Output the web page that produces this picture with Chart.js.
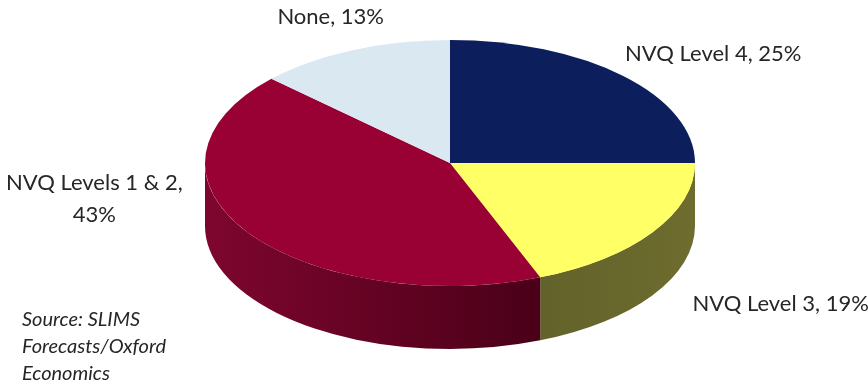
<!DOCTYPE html>
<html><head><meta charset="utf-8">
<script src="https://cdn.jsdelivr.net/npm/chart.js@4.4.1/dist/chart.umd.min.js"></script>
<style>html,body{margin:0;padding:0;background:#fff;overflow:hidden}#wrap{width:868px;height:389px;position:relative}</style>
</head><body><div id="wrap"><canvas id="c" width="868" height="389"></canvas></div>
<script>
// ---- data ----
const categories = ['NVQ Level 4', 'NVQ Level 3', 'NVQ Levels 1 & 2', 'None'];
const shares = [25, 19, 43, 13];
const sourceLines = ['Source: SLIMS', 'Forecasts/Oxford', 'Economics'];

// ---- styling ----
const topColors = ['#0c1f5c', '#ffff66', '#990033', '#dae9f1'];
const sideColors = [['#06123a', '#06123a'], ['#62622a', '#6e6c2e'], ['#7e062e', '#4a0018'], ['#a9b8c0', '#a9b8c0']];
const labelWrap = [false, false, true, false];
const labelNudge = [[90, -22], [128, 72], [-153, -33], [-22, -33]];
const TILT = 0.502, DEPTH = 63;
const LABEL_FONT = '22px Lato', SOURCE_FONT = 'italic 20px Lato', TEXT_COLOR = '#262626';

const pie3d = {
  id: 'pie3d',
  beforeDatasetsDraw(chart) {
    const ctx = chart.ctx, arcs = chart.getDatasetMeta(0).data;
    ctx.save();
    if (!arcs.length) return;
    const cx = arcs[0].x, cy = arcs[0].y, r = arcs[0].outerRadius;
    ctx.translate(cx, cy); ctx.scale(1, TILT); ctx.translate(-cx, -cy);
    const d = DEPTH / TILT;
    arcs.forEach((a, i) => {
      const lo = Math.max(a.startAngle, 0), hi = Math.min(a.endAngle, Math.PI);
      if (hi <= lo) return;
      ctx.beginPath();
      ctx.arc(cx, cy, r, lo, hi);
      ctx.lineTo(cx + r * Math.cos(hi), cy + r * Math.sin(hi) + d);
      ctx.arc(cx, cy + d, r, hi, lo, true);
      ctx.closePath();
      const x1 = cx + r * Math.cos(hi), x2 = cx + r * Math.cos(lo);
      const g = ctx.createLinearGradient(Math.min(x1, x2), 0, Math.max(x1, x2), 0);
      g.addColorStop(0, sideColors[i][0]);
      g.addColorStop(1, sideColors[i][1]);
      ctx.fillStyle = g;
      ctx.fill();
    });
  },
  afterDatasetsDraw(chart) {
    chart.ctx.restore();
  },
  afterDraw(chart) {
    const ctx = chart.ctx, arcs = chart.getDatasetMeta(0).data;
    ctx.save();
    ctx.fillStyle = TEXT_COLOR;
    ctx.font = LABEL_FONT;
    ctx.textAlign = 'center';
    ctx.textBaseline = 'middle';
    arcs.forEach((a, i) => {
      const mid = (a.startAngle + a.endAngle) / 2;
      const ex = a.x + a.outerRadius * Math.cos(mid);
      const ey = a.y + a.outerRadius * TILT * Math.sin(mid);
      const x = ex + labelNudge[i][0], y = ey + labelNudge[i][1];
      const lines = labelWrap[i] ? [categories[i] + ',', shares[i] + '%'] : [categories[i] + ', ' + shares[i] + '%'];
      const lh = 32;
      lines.forEach((t, k) => ctx.fillText(t, x, y + (k - (lines.length - 1) / 2) * lh));
    });
    ctx.font = SOURCE_FONT;
    ctx.textAlign = 'left';
    sourceLines.forEach((t, k) => ctx.fillText(t, 22, 320 + k * 27));
    ctx.restore();
  }
};

new Chart(document.getElementById('c'), {
  type: 'pie',
  data: {
    labels: categories,
    datasets: [{
      data: shares,
      backgroundColor: topColors,
      borderWidth: 0,
      radius: 245,
      clip: false
    }]
  },
  options: {
    responsive: false,
    animation: false,
    events: [],
    layout: { padding: { left: 32, right: 0, top: 0, bottom: 63 } },
    plugins: { legend: { display: false }, tooltip: { enabled: false } }
  },
  plugins: [pie3d]
});
</script>
</body></html>
